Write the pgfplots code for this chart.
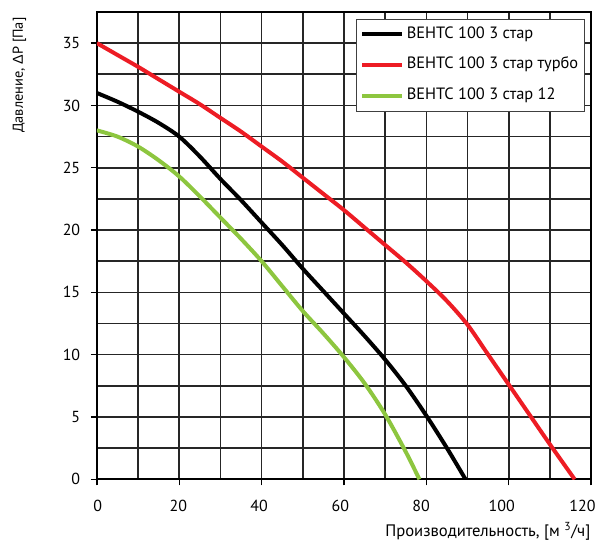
\documentclass[border=0pt]{standalone}
\usepackage{pgfplots}
\pgfplotsset{compat=1.18}
\usepackage{fontspec}
\setmainfont{PT Sans}
\newfontfamily\lib{Liberation Sans}
\definecolor{cred}{HTML}{ED1C24}
\definecolor{cgreen}{HTML}{8DC63F}
\pgfplotstableread{
x y
0 31.0
5 30.3
10 29.5
15 28.6
20 27.5
25 25.9
30 24.1
35 22.4
40 20.6
45 18.8
50 16.9
55 15.1
60 13.3
65 11.5
70 9.6
75 7.5
80 5.1
85 2.5
89.5 0
}\black
\pgfplotstableread{
x y
0 35
5 34.05
10 33.1
15 32.1
20 31.1
25 30.1
30 29.0
35 27.9
40 26.7
45 25.5
50 24.2
55 22.9
60 21.6
65 20.2
70 18.8
75 17.4
80 15.9
85 14.3
90 12.4
95 10.0
100 7.6
105 5.2
110 2.8
116 0
}\red
\pgfplotstableread{
x y
0 28
5 27.5
10 26.7
15 25.6
20 24.3
25 22.7
30 21.0
35 19.3
40 17.5
45 15.5
50 13.5
55 11.7
60 9.8
65 7.7
70 5.2
75 2.2
78.3 0
}\green
\begin{document}
\begin{tikzpicture}
\begin{axis}[
  width=371.25pt, height=351pt, scale only axis,
  xmin=0, xmax=120, ymin=0, ymax=37.5,
  xtick={0,20,...,120}, minor xtick={10,30,...,110},
  xticklabels={},
  extra x ticks={0.2,19.8,39.4,59.1,78.7,98.3,117.9},
  extra x tick labels={0,20,40,60,80,100,120},
  extra x tick style={major tick length=0pt, grid=none},
  ytick={0,5,...,35}, minor ytick={2.5,7.5,...,32.5},
  grid=both,
  major grid style={black!85, line width=1.2pt},
  minor grid style={black!85, line width=1.2pt},
  tick align=outside, tick pos=left,
  major tick length=4.5pt, minor tick length=0pt,
  tick style={black, line width=1pt},
  axis line style={black, line width=1.7pt},
  ticklabel style={font=\fontsize{12}{14}\selectfont},
  /pgf/number format/assume math mode=true,
  xticklabel style={yshift=-12pt},
  yticklabel style={xshift=-4.5pt},
  xlabel={Производительность, [м \textsuperscript{3}/ч]},
  ylabel={Давление, {\lib Δ}P [Па]},
  xlabel style={font=\fontsize{12.5}{14}\selectfont, at={(rel axis cs:1,0)}, anchor=base east, yshift=-43pt, xshift=3pt},
  ylabel style={font=\fontsize{10.8}{13}\selectfont, at={(rel axis cs:-0.1333,0.998)}, anchor=south east},
  legend style={at={(rel axis cs:0.988,0.985)}, anchor=north east,
    draw=black!75, line width=0.6pt, fill=white,
    font=\fontsize{12.3}{14}\selectfont,
    inner xsep=3pt, inner ysep=4pt, row sep=8.75pt,
    nodes={inner sep=2pt, text height=8pt, text depth=2.5pt, anchor=west}},
  legend cell align=left,
  legend image code/.code={\draw[#1, line width=3pt] (0pt,0pt) -- (30pt,0pt);},
]
\addplot[black, line width=3pt, smooth] table {\black};
\addplot[cred, line width=3pt, smooth] table {\red};
\addplot[cgreen, line width=3pt, smooth] table {\green};
\legend{ВЕНТС 100 3 стар, ВЕНТС 100 3 стар турбо, ВЕНТС 100 3 стар 12}
\coordinate (bl) at (rel axis cs:0,0);
\coordinate (tr) at (rel axis cs:1,1);
\end{axis}
\path ([shift={(-72.75pt,-51.75pt)}]bl) rectangle ([shift={(6pt,9pt)}]tr);
\end{tikzpicture}
\end{document}
